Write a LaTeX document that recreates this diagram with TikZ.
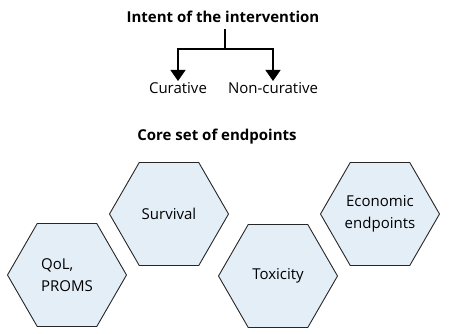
\documentclass[tikz,border=0pt]{standalone}
\usepackage{fontspec}
\setmainfont{Open Sans}
\usetikzlibrary{arrows.meta,shapes.geometric}
\definecolor{hexfill}{HTML}{E4EEF7}
\tikzset{
  hexcell/.style={regular polygon, regular polygon sides=6,
    minimum size=119pt, inner sep=0pt, draw=black!85, line width=0.9pt, fill=hexfill,
    font=\fontsize{15}{22}\selectfont, align=center},
  branch/.style={line width=1.3pt, -{Triangle[width=15pt,length=11pt]}},
  lbl/.style={font=\fontsize{15}{18}\selectfont, inner sep=1pt},
  head/.style={font=\fontsize{15}{18}\selectfont\bfseries, inner sep=1pt}
}
\begin{document}
\begin{tikzpicture}[x=1pt,y=-1pt]
  \useasboundingbox (0,0) rectangle (450,334);

  %%%%% intent %%%%%
  \node[head] (intent) at (223,17) {Intent of the intervention};
  \node[lbl, anchor=north] (cur) at (178,81) {Curative};
  \node[lbl, anchor=north] (noncur) at (273,81) {Non-curative};
  \coordinate (split) at (225,49);
  \draw[line width=1.3pt] (225,29) -- (split);
  \draw[branch] (split) -| (cur.north);
  \draw[branch] (split) -| (noncur.north);

  %%%%% endpoints %%%%%
  \node[head] (core) at (217,137) {Core set of endpoints};

  \node[hexcell, align=left] (qol) at (67,275) {QoL,\\PROMS};
  \node[hexcell] (surv) at (169,214) {Survival};
  \node[hexcell] (tox) at (278,276) {Toxicity};
  \node[hexcell] (econ) at (380,214) {Economic\\endpoints};
\end{tikzpicture}
\end{document}
